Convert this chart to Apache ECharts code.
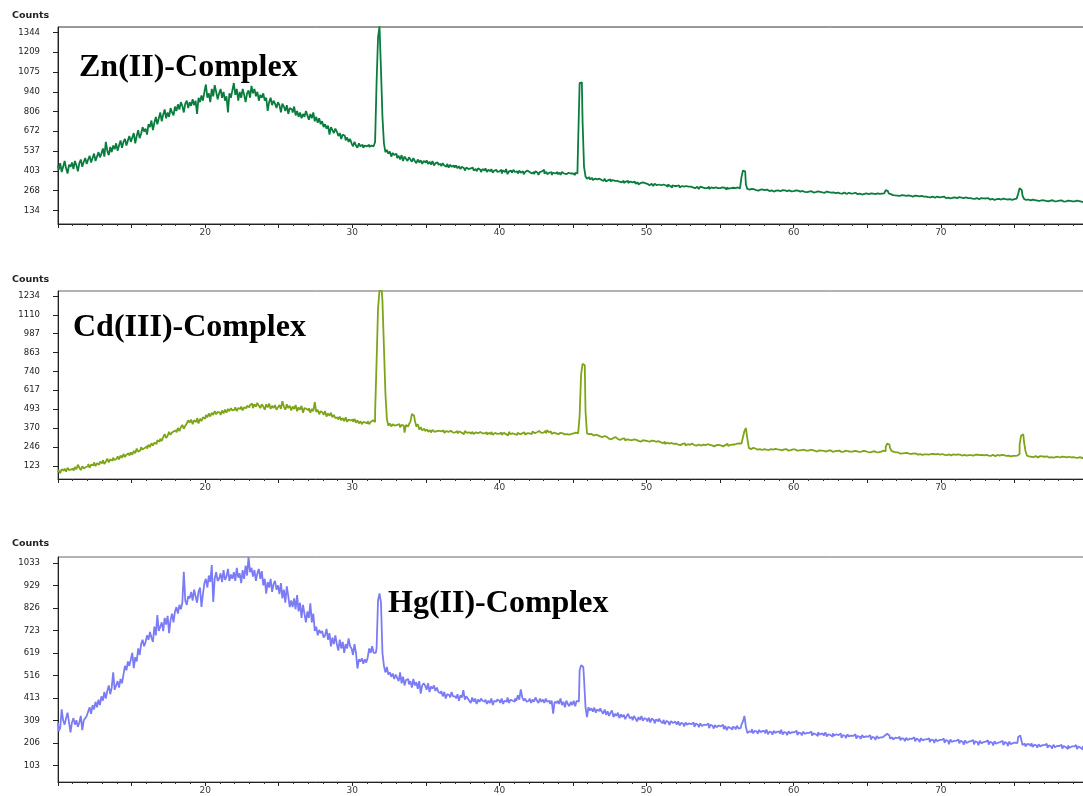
<!DOCTYPE html>
<html>
<head>
<meta charset="utf-8">
<script src="https://cdn.jsdelivr.net/npm/echarts@6/dist/echarts.min.js"></script>
<style>
  html, body { margin: 0; padding: 0; overflow: hidden; background: #fff; }
  #chart { width: 1091px; height: 796px; }
</style>
</head>
<body>
<div id="chart"></div>
<script>
// XRD patterns: counts sampled every 0.1 degree 2-theta, from 10.0 to 80.0
const thetaStart = 10;
const thetaStep = 0.1;

const znCounts = [
  440,410,455,395,430,470,420,385,445,430,
  460,415,470,440,400,455,480,430,465,490,
  450,480,505,460,490,520,470,500,530,495,
  520,555,500,600,540,510,565,530,575,550,
  590,540,575,610,560,600,620,575,610,640,
  600,630,660,590,640,680,625,655,700,670,
  690,650,720,700,745,680,730,770,720,760,
  800,740,785,820,760,800,770,830,800,780,
  840,810,855,820,870,845,800,860,880,830,
  870,845,890,850,880,790,900,870,915,880,
  940,990,900,930,870,960,910,985,940,890,
  930,960,900,940,880,910,800,930,900,950,
  1000,920,960,880,940,900,960,920,870,930,
  950,900,980,930,960,910,940,880,920,900,
  930,880,900,810,870,900,850,880,860,830,
  870,850,800,860,840,810,850,790,830,820,
  800,840,780,810,770,800,760,790,770,810,
  780,750,790,760,800,740,770,730,760,720,
  740,700,720,690,710,650,700,680,660,690,
  670,640,660,620,650,640,610,630,600,620,
  590,570,600,575,560,590,570,580,560,575,
  570,580,565,575,570,580,600,1000,1310,1385,
  1090,770,590,530,545,520,535,500,525,510,
  520,490,505,480,510,470,500,485,470,495,
  480,465,490,470,455,480,460,475,450,470,
  460,475,450,465,445,470,440,455,460,445,
  450,435,455,440,430,450,425,445,430,440,
  425,440,420,435,415,430,420,405,425,415,
  420,410,425,405,415,400,420,410,395,415,
  405,420,395,410,400,415,390,405,410,395,
  400,410,385,405,395,415,380,400,405,390,
  410,395,400,385,405,390,400,380,395,405,
  395,400,385,395,380,400,390,375,395,400,
  410,385,395,380,390,395,375,390,385,395,
  380,390,375,395,385,380,370,390,385,380,
  385,375,390,385,600,1000,1005,740,430,365,
  350,360,345,355,340,350,345,335,350,340,
  345,335,350,330,340,345,330,340,335,325,
  335,330,340,325,335,320,330,335,320,330,
  325,320,330,315,325,310,320,325,315,320,
  315,320,305,315,310,300,315,305,310,300,
  305,310,300,305,295,310,300,290,305,300,
  300,295,305,290,300,295,285,300,295,290,
  295,290,300,285,295,290,280,295,290,285,
  290,285,295,280,290,285,280,290,285,275,
  285,290,280,288,275,290,282,285,278,288,
  285,280,290,283,285,360,405,400,310,280,
  275,280,270,278,272,280,268,275,270,276,
  272,268,276,265,274,270,262,272,268,270,
  268,264,272,262,270,265,260,270,263,268,
  265,270,260,268,262,258,266,260,264,258,
  262,258,265,255,262,258,264,255,260,256,
  258,254,262,250,258,255,248,256,252,258,
  255,250,258,248,255,252,246,254,250,248,
  250,246,254,244,250,248,242,252,246,250,
  248,244,250,242,248,245,240,250,246,252,
  248,250,258,272,265,250,245,238,244,236,
  235,240,232,238,230,236,232,228,236,232,
  232,228,235,226,232,229,224,232,228,226,
  228,224,230,222,228,225,220,228,224,222,
  225,222,228,218,224,221,216,224,220,222,
  222,218,224,215,221,218,214,222,217,215,
  218,214,220,212,218,215,210,218,213,216,
  215,211,218,208,214,212,206,214,210,212,
  212,208,214,204,210,208,200,210,206,212,
  210,214,212,245,285,272,235,212,205,208,
  205,202,207,199,204,201,206,198,203,200,
  202,199,204,196,201,198,203,195,200,197,
  200,197,202,194,199,196,201,193,198,195,
  198,195,200,192,197,194,199,191,196,193,
  196
];

const cdCounts = [
  80,95,75,100,90,105,85,110,95,100,
  105,90,115,100,130,110,95,120,105,115,
  120,135,110,130,125,145,120,140,130,150,
  140,160,135,150,170,145,165,155,175,160,
  170,185,165,190,175,200,180,195,205,190,
  210,195,220,205,235,215,225,245,230,240,
  250,235,260,245,270,255,275,265,290,280,
  300,285,310,330,305,320,345,325,340,350,
  355,340,370,350,375,390,365,385,400,420,
  405,425,395,420,410,435,400,430,415,440,
  430,455,440,465,445,470,455,480,460,475,
  470,455,485,465,490,470,495,480,500,485,
  490,505,480,500,495,510,485,505,500,515,
  505,520,530,500,525,510,535,515,500,525,
  510,490,525,505,530,495,515,500,520,490,
  505,520,495,545,510,490,525,500,515,485,
  510,495,520,480,505,490,515,470,500,495,
  485,500,470,495,480,540,475,490,460,480,
  470,455,480,445,465,450,470,440,455,435,
  440,425,445,420,435,415,440,410,425,420,
  425,410,430,405,420,400,415,395,410,405,
  400,415,395,410,420,410,470,800,1150,1270,
  1270,1200,900,600,430,385,400,380,395,385,
  390,380,395,375,390,385,340,390,380,395,
  410,462,450,420,380,395,360,375,355,365,
  350,360,345,355,340,358,345,350,340,352,
  348,340,355,338,350,345,335,352,340,346,
  342,350,335,348,338,345,330,350,338,342,
  340,332,346,330,342,336,328,344,335,340,
  335,342,328,338,330,345,326,338,332,336,
  333,340,325,338,330,336,322,345,330,335,
  330,338,325,340,328,335,330,342,326,336,
  335,344,330,348,336,342,330,350,338,344,
  340,352,335,356,342,348,330,340,335,345,
  330,338,325,335,328,340,330,326,338,332,
  335,328,340,335,335,450,720,790,780,480,
  335,330,332,328,320,326,318,322,315,320,
  310,318,305,312,300,308,296,305,300,310,
  298,305,292,300,290,302,288,296,292,300,
  290,296,284,292,286,294,280,290,284,288,
  285,290,280,288,276,286,280,272,284,278,
  276,270,280,265,274,268,262,272,266,270,
  268,262,272,258,266,262,270,256,264,260,
  262,268,258,265,255,262,268,254,262,258,
  258,264,252,260,256,262,250,258,254,260,
  256,262,250,258,254,266,252,260,262,258,
  262,268,260,270,268,280,310,350,370,300,
  240,232,240,230,236,228,238,232,226,234,
  232,228,236,226,232,240,228,234,226,230,
  228,234,224,230,226,232,222,228,226,230,
  225,230,222,228,224,226,220,228,222,226,
  222,228,218,225,220,226,216,224,220,222,
  220,226,216,222,218,224,214,222,218,220,
  218,222,214,220,216,222,212,218,215,220,
  215,220,212,218,214,208,216,220,212,218,
  213,218,210,216,212,218,210,214,212,216,
  215,222,218,245,268,262,238,220,214,210,
  205,210,202,208,204,206,200,208,203,205,
  200,204,198,203,196,202,199,194,202,198,
  198,202,196,200,194,200,197,192,200,196,
  196,200,194,198,192,198,195,190,198,194,
  195,198,192,196,190,197,194,189,196,193,
  193,197,190,195,189,196,192,188,195,191,
  192,195,189,194,188,195,191,186,194,190,
  190,194,188,193,187,192,190,185,192,188,
  188,185,190,200,260,320,330,280,220,190,
  185,182,188,180,186,183,178,186,182,184,
  182,179,185,177,183,180,176,184,180,182,
  180,177,183,175,181,178,174,182,178,180,
  180,176,182,174,180,177,173,181,177,179,
  178
];

const hgCounts = [
  300,260,275,360,310,290,320,345,300,255,
  300,320,290,310,280,300,330,265,310,320,
  330,350,370,340,380,360,395,370,405,380,
  420,400,440,410,445,470,430,460,530,450,
  470,490,460,500,480,520,560,540,580,560,
  590,620,550,600,580,640,610,660,680,650,
  670,700,680,716,690,670,740,700,793,720,
  740,760,720,780,750,790,710,770,800,760,
  810,830,800,840,820,850,992,860,840,880,
  870,900,860,910,880,850,900,920,831,890,
  940,960,920,975,945,1023,854,960,990,950,
  960,985,945,1000,955,970,1005,950,980,960,
  990,950,1010,965,985,940,1000,960,1020,975,
  1060,990,1010,970,1000,950,985,1005,960,995,
  930,960,892,945,920,960,900,935,950,910,
  930,890,940,870,910,850,925,880,830,860,
  830,870,820,885,810,850,780,840,800,760,
  810,780,847,760,800,720,740,700,725,710,
  720,690,700,730,680,710,650,690,660,700,
  660,630,680,640,670,620,660,640,686,650,
  640,610,660,620,548,590,580,595,570,590,
  575,600,640,620,650,620,620,640,860,893,
  850,620,560,530,555,520,530,510,525,500,
  520,505,490,530,480,510,470,495,500,475,
  490,460,500,470,485,455,490,433,470,480,
  470,450,480,440,465,455,470,445,460,440,
  435,445,420,440,410,430,425,415,440,420,
  420,410,430,400,425,415,448,405,420,410,
  400,390,415,395,410,385,405,395,410,400,
  395,405,385,400,390,410,380,400,395,405,
  400,390,410,385,400,395,415,390,405,400,
  395,410,400,425,405,452,415,400,410,395,
  400,410,390,405,395,415,400,390,410,395,
  405,390,410,395,400,385,400,341,395,390,
  400,385,410,380,395,370,400,385,375,395,
  380,400,375,400,395,540,563,555,500,370,
  325,370,355,365,350,368,345,360,352,365,
  350,340,360,335,352,330,345,355,325,340,
  330,345,320,338,325,335,315,330,340,320,
  325,310,330,318,305,325,312,330,308,320,
  315,305,322,300,318,310,296,314,305,318,
  305,296,312,292,308,300,288,306,298,304,
  300,290,305,286,298,294,282,300,290,296,
  292,285,300,280,295,288,278,296,284,290,
  288,280,296,274,290,284,272,288,278,286,
  282,276,290,270,284,265,280,275,268,280,
  278,268,285,272,275,290,305,330,280,252,
  260,255,270,250,262,258,248,266,255,262,
  260,250,268,246,258,255,244,262,252,258,
  258,248,266,245,256,252,242,260,250,256,
  255,246,262,242,254,250,240,258,248,252,
  252,244,258,240,250,246,238,254,245,250,
  248,240,255,236,246,242,234,250,240,246,
  242,236,250,230,242,238,228,246,236,240,
  238,230,246,226,238,234,224,242,232,236,
  235,228,242,222,234,230,220,238,228,232,
  232,236,240,248,254,240,226,232,222,230,
  228,222,234,218,228,224,214,230,220,226,
  225,218,232,214,226,220,210,228,218,222,
  222,216,228,210,222,218,206,224,214,220,
  220,212,226,206,220,214,200,222,210,216,
  216,208,222,204,216,210,198,218,206,212,
  214,206,220,200,214,208,196,216,204,210,
  212,204,218,198,212,206,194,214,202,208,
  210,202,216,196,210,204,192,212,200,206,
  208,210,205,232,241,225,196,204,190,200,
  200,192,205,188,198,194,184,200,190,196,
  196,188,202,184,195,190,180,198,186,192,
  192,185,198,180,192,186,178,194,184,190,
  190,182,196,178,190,184,176,192,182,188,
  188
];

// y-axis tick labels of each panel (tenths of the panel's full scale)
const znTicks = [134, 268, 403, 537, 672, 806, 940, 1075, 1209, 1344];
const cdTicks = [123, 246, 370, 493, 617, 740, 863, 987, 1110, 1234];
const hgTicks = [103, 206, 309, 413, 516, 619, 723, 826, 929, 1033];

const panelTitles = ['Zn(II)-Complex', 'Cd(III)-Complex', 'Hg(II)-Complex'];

const panels = [
  { data: znCounts, ticks: znTicks, title: panelTitles[0], color: '#0a7d3e',
    top: 27, height: 197, min: 41.5, max: 1381, border: '#333',
    titleX: 79, titleY: 68, countsY: 16 },
  { data: cdCounts, ticks: cdTicks, title: panelTitles[1], color: '#7ea51a',
    top: 291, height: 188, min: 36.5, max: 1266, border: '#666',
    titleX: 73, titleY: 328, countsY: 280 },
  { data: hgCounts, ticks: hgTicks, title: panelTitles[2], color: '#7b7bf6',
    top: 557, height: 225, min: 26.7, max: 1060, border: '#666',
    titleX: 388, titleY: 604, countsY: 544 }
];

function toPairs(values) {
  return values.map((v, i) => [+(thetaStart + i * thetaStep).toFixed(1), v]);
}

function minorTicks(p) {
  const sub = p.ticks[p.ticks.length - 1] / p.ticks.length / 6;
  const out = [];
  for (let j = Math.ceil(p.min / sub); j * sub <= p.max; j++) out.push(j * sub);
  return out;
}

const grids = [], xAxes = [], yAxes = [], series = [], graphics = [];
const labelFont = 'DejaVu Sans';

panels.forEach((p, i) => {
  grids.push({
    left: 58, right: 0, top: p.top, height: p.height,
    show: true, borderColor: p.border, borderWidth: 1, backgroundColor: 'transparent'
  });
  xAxes.push({
    type: 'value', gridIndex: i, min: 10, max: 80, interval: 5,
    axisLine: { lineStyle: { color: '#222', width: 1 } },
    axisTick: { length: 4, lineStyle: { color: '#222' } },
    minorTick: { show: true, splitNumber: 5, length: 2, lineStyle: { color: '#333' } },
    splitLine: { show: false },
    axisLabel: {
      margin: 4, fontSize: 9, color: '#3a3a44', fontFamily: labelFont,
      formatter: v => (v % 10 === 0 && v > 10 && v < 80) ? String(v) : ''
    }
  });
  yAxes.push({
    type: 'value', gridIndex: i, min: p.min, max: p.max,
    axisLine: { show: true, lineStyle: { color: '#222', width: 1 } },
    axisTick: { show: true, length: 5, customValues: p.ticks, lineStyle: { color: '#222' } },
    axisLabel: {
      customValues: p.ticks, margin: 18, fontSize: 8.5, color: '#222',
      fontFamily: labelFont, formatter: v => String(Math.round(v))
    },
    splitLine: { show: false }
  });
  yAxes.push({
    type: 'value', gridIndex: i, min: p.min, max: p.max,
    axisLine: { show: false },
    axisTick: { show: true, length: 3, customValues: minorTicks(p), lineStyle: { color: '#333' } },
    axisLabel: { show: false },
    splitLine: { show: false }
  });
  series.push({
    type: 'line', name: p.title, xAxisIndex: i, yAxisIndex: i * 2,
    data: toPairs(p.data), showSymbol: false, step: 'middle', clip: true,
    lineStyle: { color: p.color, width: 1.8 }, itemStyle: { color: p.color }
  });
  graphics.push({
    type: 'text', x: 12, y: p.countsY,
    style: { text: 'Counts', font: 'bold 9.5px "DejaVu Sans"', fill: '#222', verticalAlign: 'middle' }
  });
  graphics.push({
    type: 'text', x: p.titleX, y: p.titleY,
    style: { text: p.title, font: 'bold 32px "Liberation Serif"', fill: '#000', verticalAlign: 'middle' }
  });
});

const chart = echarts.init(document.getElementById('chart'), null, { renderer: 'canvas' });
chart.setOption({
  animation: false,
  backgroundColor: '#fff',
  grid: grids,
  xAxis: xAxes,
  yAxis: yAxes,
  series: series,
  graphic: graphics
});
</script>
</body>
</html>
